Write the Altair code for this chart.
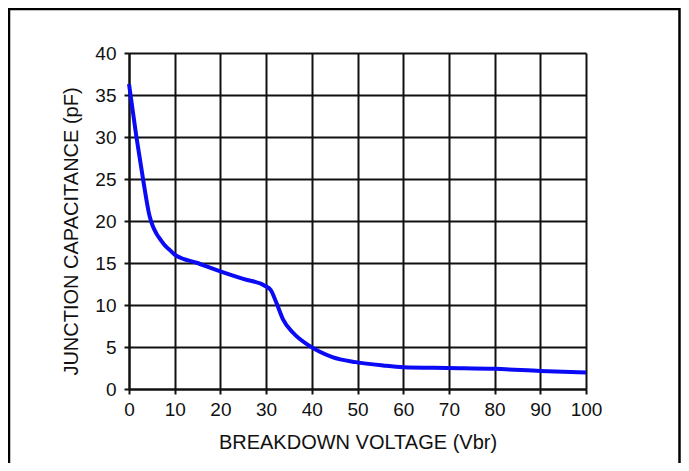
import altair as alt
import pandas as pd

# Curve
vbr = [0, 1.6, 3.1, 4.5, 5.2, 6, 7, 8, 9, 10, 15, 20, 25, 29.7, 31, 32.3, 33.7, 35.9, 39.6, 44.5, 49.6, 55.6, 60, 70, 80, 90, 100]
cap = [36.3, 30.1, 24.9, 20.6, 19.4, 18.5, 17.7, 17.0, 16.5, 16.0, 15.0, 14.0, 13.1, 12.3, 11.8, 10.2, 8.3, 6.7, 5.1, 3.8, 3.2, 2.8, 2.6, 2.5, 2.4, 2.15, 1.95]

x_ticks = list(range(0, 101, 10))
y_ticks = list(range(0, 41, 5))

x_title = "BREAKDOWN VOLTAGE (Vbr)"
y_title = "JUNCTION CAPACITANCE (pF)"

df = pd.DataFrame({"v": vbr, "c": cap})

FONT = "Liberation Sans"

x_axis = alt.Axis(
    values=x_ticks, title=x_title, grid=True, gridColor="#111111", gridWidth=2, gridOpacity=1,
    domainColor="#111111", domainWidth=2, tickColor="#111111", tickWidth=2, tickSize=5,
    labelFont=FONT, labelFontSize=19, labelColor="#111111", labelPadding=6,
    labelFlush=False, labelOverlap=False,
    titleFont=FONT, titleFontSize=20, titleFontWeight="normal", titleColor="#111111",
    titleBaseline="alphabetic", titleY=59, titleAlign="center",
)
y_axis = alt.Axis(
    values=y_ticks, title=y_title, grid=True, gridColor="#111111", gridWidth=2, gridOpacity=1,
    domainColor="#111111", domainWidth=2, tickColor="#111111", tickWidth=2, tickSize=5,
    labelFont=FONT, labelFontSize=19, labelColor="#111111", labelPadding=8,
    labelFlush=False, labelOverlap=False,
    titleFont=FONT, titleFontSize=20, titleFontWeight="normal", titleColor="#111111",
    titleAngle=270, titleBaseline="alphabetic", titleAlign="center", titleX=-52, titleY=178,
)

line = alt.Chart(df).mark_line(color="#0a0af5", strokeWidth=4, interpolate="monotone").encode(
    x=alt.X("v:Q", scale=alt.Scale(domain=[0, 100], nice=False, zero=False), axis=x_axis),
    y=alt.Y("c:Q", scale=alt.Scale(domain=[0, 40], nice=False), axis=y_axis),
)

frame = alt.Chart(pd.DataFrame({"a": [0]})).mark_rect(
    fill="transparent", stroke="black", strokeWidth=2.5
).encode(
    x=alt.value(-120), x2=alt.value(550.5), y=alt.value(-44), y2=alt.value(430)
)

chart = alt.layer(line, frame).properties(
    width=457, height=336,
    autosize=alt.AutoSizeParams(type="none"),
    padding={"left": 121, "top": 45, "right": 95, "bottom": 74},
).configure_view(stroke=None).configure(background="white")

chart.save("out.html", embed_options={"renderer": "svg", "actions": False})
